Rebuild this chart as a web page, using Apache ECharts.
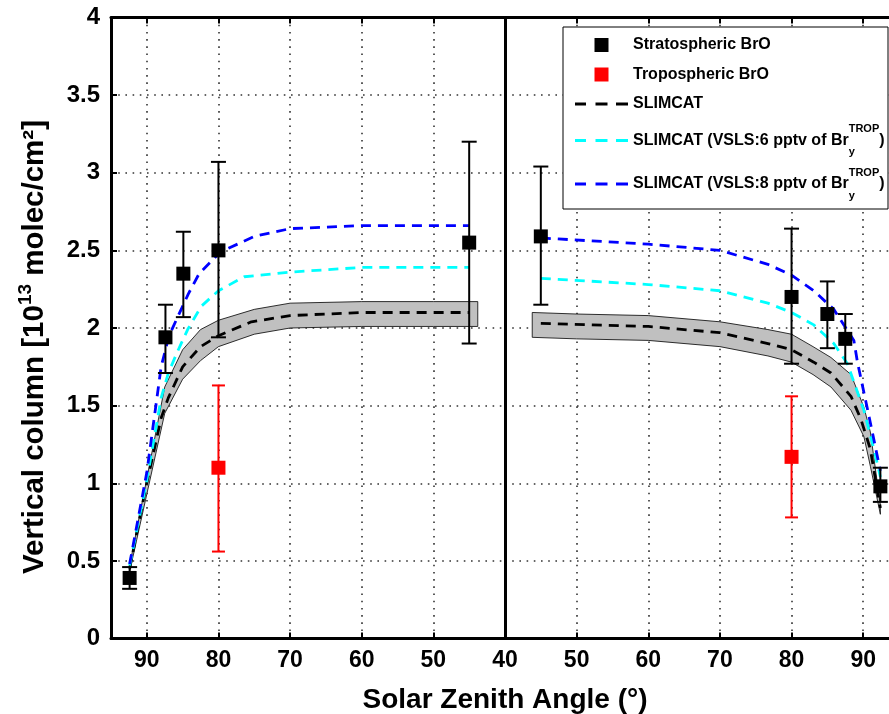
<!DOCTYPE html>
<html><head><meta charset="utf-8">
<script src="https://cdn.jsdelivr.net/npm/echarts@6/dist/echarts.min.js"></script>
<style>html,body{margin:0;padding:0;background:#fff}#chart{width:889px;height:714px}</style>
</head><body><div id="chart"></div>
<script>
// ---------------- data ----------------
// x tick values (Solar Zenith Angle, degrees) for both branches
const szaTickValues = [40, 50, 60, 70, 80, 90];
const yTickInterval = 0.5;

// Stratospheric BrO, morning branch (left panel)
const stratAmSza  = [92.4, 87.4, 84.9, 80.0, 45.0];
const stratAmVal  = [0.39, 1.94, 2.35, 2.50, 2.55];
const stratAmLow  = [0.32, 1.71, 2.07, 1.94, 1.90];
const stratAmHigh = [0.46, 2.15, 2.62, 3.07, 3.20];
// Stratospheric BrO, evening branch (right panel)
const stratPmSza  = [45.0, 80.0, 85.0, 87.5, 92.4];
const stratPmVal  = [2.59, 2.20, 2.09, 1.93, 0.98];
const stratPmLow  = [2.15, 1.77, 1.87, 1.77, 0.88];
const stratPmHigh = [3.04, 2.64, 2.30, 2.09, 1.10];
// Tropospheric BrO
const tropAmSza  = [80.0];
const tropAmVal  = [1.10];
const tropAmLow  = [0.56];
const tropAmHigh = [1.63];
const tropPmSza  = [80.0];
const tropPmVal  = [1.17];
const tropPmLow  = [0.78];
const tropPmHigh = [1.56];

// SLIMCAT (black dashed) and its uncertainty band
const slimAmSza = [92.4, 90.2, 88.0, 87.0, 85.0, 82.5, 80.0, 75.4, 70.0, 60.0, 50.0, 45.0];
const slimAmVal = [0.45, 0.96, 1.42, 1.55, 1.75, 1.88, 1.95, 2.04, 2.08, 2.10, 2.10, 2.10];
const bandAmSza  = [92.4, 90.0, 87.5, 85.0, 82.5, 80.0, 75.0, 70.0, 60.0, 50.0, 43.8];
const bandAmLow  = [0.43, 0.93, 1.45, 1.67, 1.79, 1.88, 1.96, 2.00, 2.01, 2.01, 2.01];
const bandAmHigh = [0.47, 1.03, 1.62, 1.86, 1.99, 2.05, 2.12, 2.16, 2.17, 2.17, 2.17];
const slimPmSza = [45.0, 60.0, 70.0, 76.7, 80.0, 83.1, 85.5, 88.3, 89.7, 91.0, 92.4];
const slimPmVal = [2.03, 2.01, 1.97, 1.90, 1.86, 1.78, 1.71, 1.56, 1.41, 1.22, 0.84];
const bandPmSza  = [43.8, 50.0, 60.0, 70.0, 76.7, 80.0, 83.0, 85.5, 88.3, 90.1, 91.0, 92.4];
const bandPmLow  = [1.94, 1.93, 1.92, 1.88, 1.82, 1.78, 1.70, 1.62, 1.47, 1.30, 1.11, 0.80];
const bandPmHigh = [2.10, 2.09, 2.08, 2.04, 1.99, 1.96, 1.88, 1.81, 1.70, 1.49, 1.33, 0.86];

// SLIMCAT VSLS 6 pptv (cyan)
const vsls6AmSza = [92.4, 90.0, 88.0, 87.0, 85.6, 84.3, 82.4, 80.0, 76.4, 70.0, 60.0, 45.0];
const vsls6AmVal = [0.47, 1.02, 1.55, 1.71, 1.86, 1.99, 2.14, 2.24, 2.33, 2.36, 2.39, 2.39];
const vsls6PmSza = [45.0, 60.0, 70.0, 76.7, 80.0, 83.1, 85.9, 87.8, 90.1, 91.5, 92.4];
const vsls6PmVal = [2.32, 2.28, 2.24, 2.16, 2.10, 2.02, 1.90, 1.77, 1.47, 1.22, 1.04];
// SLIMCAT VSLS 8 pptv (blue)
const vsls8AmSza = [92.4, 90.0, 88.0, 86.9, 84.2, 82.7, 79.7, 75.0, 70.0, 60.0, 45.0];
const vsls8AmVal = [0.48, 1.07, 1.75, 1.95, 2.22, 2.35, 2.49, 2.59, 2.64, 2.66, 2.66];
const vsls8PmSza = [45.0, 60.0, 70.0, 76.7, 80.0, 83.1, 85.9, 88.7, 89.2, 91.0, 92.4];
const vsls8PmVal = [2.58, 2.54, 2.50, 2.41, 2.34, 2.24, 2.12, 1.92, 1.78, 1.39, 1.08];

const nameStrat = 'Stratospheric BrO';
const nameTrop  = 'Tropospheric BrO';
const nameSlim  = 'SLIMCAT';
const nameV6    = 'SLIMCAT (VSLS:6 pptv of Br_y^TROP)';
const nameV8    = 'SLIMCAT (VSLS:8 pptv of Br_y^TROP)';

// ---------------- helpers ----------------
const FONT = '"Liberation Sans", Arial, Helvetica, sans-serif';
const zip2 = (xs, ys) => xs.map((x, i) => [x, ys[i]]);
const zip3 = (xs, a, b) => xs.map((x, i) => [x, a[i], b[i]]);
const dotted = { color: '#333', width: 1.6, type: [1.6, 5.6] };
const LINE_W = 2.8;
const DASH = [10, 7];
// legend icons (53 x 14 box): a 14px square, and a three-dash line sample
const SQUARE_ICON = 'path://M0,0M53,14M19.5,0h14v14h-14z';
const DASH_ICON = 'path://M0,0M53,14M0,5.6h11v2.8h-11z M20.5,5.6h12v2.8h-12z M41,5.6h12v2.8h-12z';

function xAxisDef(gridIndex, pos, hide40) {
  const isBottom = pos === 'bottom';
  return {
    type: 'value', gridIndex, position: pos, min: 40, max: 95, interval: 10,
    inverse: gridIndex === 0,
    axisLine: { show: true, onZero: false, lineStyle: { color: '#000', width: 3 } },
    axisTick: { show: true, inside: true, length: 6, lineStyle: { color: '#000', width: 2 } },
    axisLabel: {
      show: isBottom, margin: 11, color: '#000', fontSize: 23, fontWeight: 'bold', fontFamily: FONT,
      formatter: v => (szaTickValues.indexOf(v) < 0 || (hide40 && v === 40)) ? '' : String(v)
    },
    splitLine: { show: isBottom, lineStyle: dotted }
  };
}

function bandSeries(xi, sza, low, high) {
  return {
    type: 'custom', xAxisIndex: xi, yAxisIndex: xi, z: 1, silent: true,
    data: zip3(sza, low, high),
    encode: { x: 0, y: [1, 2] },
    renderItem: (params, api) => {
      if (params.dataIndex !== 0) return null;
      const pts = [];
      for (let i = 0; i < sza.length; i++) pts.push(api.coord([sza[i], low[i]]));
      for (let i = sza.length - 1; i >= 0; i--) pts.push(api.coord([sza[i], high[i]]));
      return { type: 'polygon', shape: { points: pts }, style: { fill: '#c0c0c0', stroke: '#000', lineWidth: 0.8 } };
    }
  };
}

function lineSeries(name, xi, sza, val, color) {
  return {
    name, type: 'line', xAxisIndex: xi, yAxisIndex: xi, z: 2, data: zip2(sza, val),
    symbol: 'none', showSymbol: false, smooth: false, silent: true,
    lineStyle: { color, width: LINE_W, type: DASH }, itemStyle: { color }
  };
}

function errSeries(xi, sza, low, high, color, capW) {
  return {
    type: 'custom', xAxisIndex: xi, yAxisIndex: xi, z: 3, silent: true,
    data: zip3(sza, low, high), encode: { x: 0, y: [1, 2] },
    renderItem: (params, api) => {
      const x = api.value(0);
      const pl = api.coord([x, api.value(1)]);
      const ph = api.coord([x, api.value(2)]);
      const w = capW / 2;
      const st = { stroke: color, lineWidth: 2 };
      return { type: 'group', children: [
        { type: 'line', shape: { x1: pl[0], y1: pl[1], x2: ph[0], y2: ph[1] }, style: st },
        { type: 'line', shape: { x1: pl[0] - w, y1: pl[1], x2: pl[0] + w, y2: pl[1] }, style: st },
        { type: 'line', shape: { x1: ph[0] - w, y1: ph[1], x2: ph[0] + w, y2: ph[1] }, style: st }
      ]};
    }
  };
}

function scatterSeries(name, xi, sza, val, color) {
  return {
    name, type: 'scatter', xAxisIndex: xi, yAxisIndex: xi, z: 4, data: zip2(sza, val),
    symbol: 'rect', symbolSize: 14, itemStyle: { color, opacity: 1 }, silent: true
  };
}

const chart = echarts.init(document.getElementById('chart'), null, { renderer: 'canvas' });
const option = {
  animation: false,
  backgroundColor: '#fff',
  textStyle: { fontFamily: FONT },
  grid: [
    { left: 111, top: 17.5, width: 394, bottom: 75.5, outerBoundsMode: 'none', containLabel: false },
    { left: 505, top: 17.5, right: -10, bottom: 75.5, outerBoundsMode: 'none', containLabel: false }
  ],
  xAxis: [
    xAxisDef(0, 'bottom', false),
    xAxisDef(1, 'bottom', true),
    xAxisDef(0, 'top', false),
    xAxisDef(1, 'top', true)
  ],
  yAxis: [
    {
      type: 'value', gridIndex: 0, min: 0, max: 4, interval: yTickInterval, position: 'left',
      axisLine: { show: true, onZero: false, lineStyle: { color: '#000', width: 3 } },
      axisTick: { show: true, inside: true, length: 6, lineStyle: { color: '#000', width: 2 } },
      axisLabel: { margin: 11, color: '#000', fontSize: 24, fontWeight: 'bold', fontFamily: FONT },
      splitLine: { show: true, lineStyle: dotted },
      name: '{n|Vertical column [10}{s|13}{n| molec/cm²]}',
      nameLocation: 'middle', nameRotate: 90, nameGap: 57,
      nameTextStyle: {
        color: '#000', fontFamily: FONT, fontWeight: 'bold', fontSize: 29.5,
        padding: [0, 38, 0, 0],
        rich: {
          n: { fontSize: 29.5, fontWeight: 'bold', fontFamily: FONT, color: '#000', lineHeight: 38 },
          s: { fontSize: 19, fontWeight: 'bold', fontFamily: FONT, color: '#000', lineHeight: 22, verticalAlign: 'top' }
        }
      }
    },
    {
      type: 'value', gridIndex: 1, min: 0, max: 4, interval: yTickInterval, position: 'left',
      axisLine: { show: true, onZero: false, lineStyle: { color: '#000', width: 3 } },
      axisTick: { show: false }, axisLabel: { show: false },
      splitLine: { show: true, lineStyle: dotted }
    }
  ],
  title: {
    text: 'Solar Zenith Angle (°)', left: 505, top: 686, padding: 0, textAlign: 'center',
    textStyle: { color: '#000', fontFamily: FONT, fontWeight: 'bold', fontSize: 28 }
  },
  graphic: { elements: [
    { type: 'rect', z: 5, silent: true, shape: { x: 563, y: 27, width: 325, height: 182 },
      style: { fill: '#fff', stroke: '#000', lineWidth: 1 } }
  ]},
  legend: {
    orient: 'vertical', left: 575, top: 35, padding: 0, itemGap: 9.5,
    itemWidth: 53, itemHeight: 14, z: 10, selectedMode: false,
    itemStyle: { borderWidth: 0 },
    textStyle: {
      color: '#000', fontFamily: FONT, fontWeight: 'bold', fontSize: 16, lineHeight: 20,
      rich: {
        m: { color: '#000', fontFamily: FONT, fontWeight: 'bold', fontSize: 16, lineHeight: 34 },
        sub: { color: '#000', fontFamily: FONT, fontWeight: 'bold', fontSize: 11, lineHeight: 16, verticalAlign: 'bottom', width: 0 },
        sup: { color: '#000', fontFamily: FONT, fontWeight: 'bold', fontSize: 11, lineHeight: 14, verticalAlign: 'top' }
      }
    },
    formatter: name => {
      const k = name.indexOf('Br_y^TROP');
      if (k < 0) return name;
      return '{m|' + name.slice(0, k) + 'Br}{sub|y}{sup|TROP}{m|' + name.slice(k + 9) + '}';
    },
    data: [
      { name: nameStrat, icon: SQUARE_ICON },
      { name: nameTrop, icon: SQUARE_ICON },
      { name: nameSlim, icon: DASH_ICON },
      { name: nameV6, icon: DASH_ICON },
      { name: nameV8, icon: DASH_ICON }
    ]
  },
  series: [
    bandSeries(0, bandAmSza, bandAmLow, bandAmHigh),
    bandSeries(1, bandPmSza, bandPmLow, bandPmHigh),
    lineSeries(nameSlim, 0, slimAmSza, slimAmVal, '#000000'),
    lineSeries(nameSlim, 1, slimPmSza, slimPmVal, '#000000'),
    lineSeries(nameV6, 0, vsls6AmSza, vsls6AmVal, '#00ffff'),
    lineSeries(nameV6, 1, vsls6PmSza, vsls6PmVal, '#00ffff'),
    lineSeries(nameV8, 0, vsls8AmSza, vsls8AmVal, '#0000ff'),
    lineSeries(nameV8, 1, vsls8PmSza, vsls8PmVal, '#0000ff'),
    errSeries(0, stratAmSza, stratAmLow, stratAmHigh, '#000000', 15),
    errSeries(1, stratPmSza, stratPmLow, stratPmHigh, '#000000', 15),
    errSeries(0, tropAmSza, tropAmLow, tropAmHigh, '#ff0000', 13),
    errSeries(1, tropPmSza, tropPmLow, tropPmHigh, '#ff0000', 13),
    scatterSeries(nameStrat, 0, stratAmSza, stratAmVal, '#000000'),
    scatterSeries(nameStrat, 1, stratPmSza, stratPmVal, '#000000'),
    scatterSeries(nameTrop, 0, tropAmSza, tropAmVal, '#ff0000'),
    scatterSeries(nameTrop, 1, tropPmSza, tropPmVal, '#ff0000')
  ]
};
chart.setOption(option);
</script></body></html>
